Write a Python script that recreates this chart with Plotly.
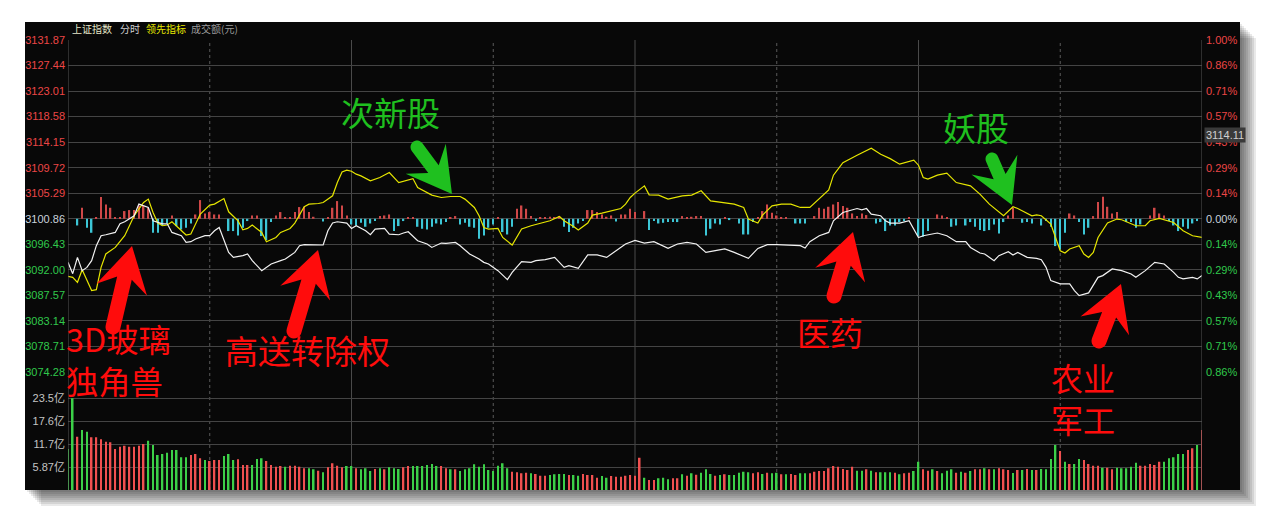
import math
import plotly.graph_objects as go

# ---------------- data ----------------
prev_close = 3100.86
price_ticks = [3131.87, 3127.44, 3123.01, 3118.58, 3114.15, 3109.72, 3105.29,
               3100.86, 3096.43, 3092.00, 3087.57, 3083.14, 3078.71, 3074.28]
pct_labels = ["1.00%", "0.86%", "0.71%", "0.57%", "0.43%", "0.29%", "0.14%",
              "0.00%", "0.14%", "0.29%", "0.43%", "0.57%", "0.71%", "0.86%"]
vol_ticks = [5.87, 11.74, 17.61, 23.48]
vol_labels = ["5.87亿", "11.7亿", "17.6亿", "23.5亿"]

# 上证指数 (white line): minute index, index level
sh_min = [0, 1, 2, 3, 4, 5, 6, 7, 8, 10, 11, 12, 14, 15, 17, 18, 20, 21, 22, 24, 25, 26, 27, 29, 30,
          31, 32, 33, 34, 35, 37, 38, 39, 41, 42, 43, 45, 46, 48, 49, 50, 52, 54, 55, 56, 57, 59, 60,
          61, 63, 64, 65, 67, 68, 70, 71, 72, 74, 76, 77, 79, 80, 82, 83, 85, 87, 88, 89, 91, 93, 94,
          96, 98, 99, 101, 103, 105, 106, 108, 110, 112, 114, 116, 118, 120, 122, 124, 127, 129, 131,
          133, 135, 137, 139, 141, 144, 146, 148, 150, 152, 155, 156, 157, 159, 161, 162, 164, 167,
          168, 169, 170, 172, 173, 174, 176, 178, 180, 181, 184, 186, 187, 188, 190, 191, 193, 194,
          196, 197, 199, 200, 201, 203, 205, 206, 207, 208, 210, 212, 213, 214, 216, 218, 219, 221,
          223, 225, 226, 228, 230, 232, 234, 235, 236, 238, 239, 240]
sh_val = [3093.30, 3091.34, 3094.16, 3091.86, 3092.43, 3093.59, 3096.19, 3097.92, 3098.09, 3098.49,
          3099.99, 3100.34, 3101.38, 3103.40, 3102.82, 3100.51, 3099.99, 3099.99, 3098.49, 3097.92,
          3096.76, 3096.88, 3097.35, 3097.92, 3097.92, 3098.78, 3099.35, 3097.35, 3095.03, 3094.16,
          3094.46, 3094.75, 3093.59, 3091.86, 3092.43, 3093.02, 3093.59, 3093.89, 3095.03, 3096.19,
          3096.36, 3096.31, 3096.31, 3098.78, 3100.12, 3100.34, 3100.12, 3099.18, 3099.65, 3098.78,
          3098.09, 3099.08, 3099.18, 3098.21, 3098.09, 3098.39, 3098.61, 3097.05, 3096.48, 3095.89,
          3096.65, 3096.58, 3096.76, 3096.19, 3094.75, 3093.89, 3093.30, 3093.02, 3091.86, 3090.30,
          3091.57, 3093.42, 3093.30, 3093.59, 3093.76, 3094.16, 3092.43, 3092.73, 3092.26, 3094.58,
          3094.58, 3094.16, 3095.32, 3096.48, 3097.10, 3096.65, 3096.88, 3095.72, 3096.48, 3096.76,
          3096.48, 3095.03, 3095.32, 3095.62, 3095.03, 3093.99, 3095.72, 3096.36, 3096.36, 3096.31,
          3096.19, 3095.79, 3096.88, 3097.92, 3098.49, 3100.51, 3101.95, 3102.64, 3102.42, 3102.64,
          3101.67, 3101.38, 3100.51, 3100.12, 3100.12, 3100.51, 3097.62, 3097.92, 3098.39, 3097.92,
          3097.35, 3096.88, 3096.88, 3095.89, 3094.92, 3094.75, 3093.59, 3094.46, 3095.15, 3094.58,
          3095.03, 3094.16, 3093.99, 3093.76, 3092.43, 3090.13, 3089.56, 3089.56, 3088.40, 3087.54,
          3088.00, 3090.70, 3091.00, 3092.16, 3091.86, 3091.29, 3090.70, 3091.86, 3093.30, 3093.02,
          3091.57, 3090.70, 3090.43, 3090.70, 3090.43, 3091.00]

# 领先指标 (yellow line)
lead_min = [0, 1, 2, 3, 5, 6, 7, 8, 10, 12, 13, 14, 16, 17, 18, 19, 20, 21, 22, 24, 25, 26, 27, 28,
            30, 31, 33, 34, 36, 37, 38, 39, 41, 42, 44, 45, 47, 48, 50, 51, 53, 54, 56, 57, 58, 59,
            60, 61, 62, 64, 66, 68, 70, 73, 74, 77, 79, 81, 83, 84, 86, 87, 88, 89, 91, 92, 94, 95,
            96, 98, 100, 102, 104, 105, 107, 108, 110, 111, 113, 115, 117, 118, 119, 120, 122, 123,
            125, 127, 130, 132, 134, 136, 139, 141, 143, 144, 146, 147, 149, 151, 153, 155, 157, 159,
            161, 162, 164, 167, 170, 172, 174, 176, 179, 180, 181, 182, 184, 186, 188, 191, 193, 195,
            198, 200, 201, 204, 205, 206, 208, 209, 210, 211, 212, 214, 215, 216, 217, 218, 220, 222,
            223, 226, 228, 229, 231, 234, 236, 238, 240]
lead_val = [3090.88, 3090.70, 3089.84, 3092.03, 3088.40, 3088.57, 3092.43, 3094.75, 3095.89, 3097.92,
            3099.65, 3101.38, 3103.68, 3104.27, 3101.95, 3100.12, 3099.65, 3099.77, 3100.34, 3098.78,
            3098.04, 3098.21, 3099.94, 3101.67, 3103.23, 3103.40, 3104.37, 3102.07, 3100.51, 3098.96,
            3099.18, 3099.77, 3098.49, 3096.88, 3097.62, 3098.49, 3099.18, 3100.12, 3102.94, 3103.40,
            3103.51, 3103.68, 3104.84, 3107.14, 3108.99, 3109.29, 3109.10, 3108.60, 3108.30, 3107.44,
            3108.01, 3108.87, 3107.14, 3107.83, 3106.28, 3104.96, 3104.55, 3104.72, 3104.72, 3104.27,
            3102.82, 3101.38, 3099.35, 3099.08, 3099.18, 3097.62, 3096.31, 3097.62, 3099.08, 3099.65,
            3100.12, 3100.51, 3101.26, 3100.51, 3099.53, 3098.90, 3100.12, 3101.50, 3101.85, 3102.24,
            3102.64, 3103.40, 3104.55, 3105.31, 3106.57, 3105.01, 3104.96, 3104.27, 3104.84, 3104.96,
            3105.71, 3103.97, 3103.58, 3103.40, 3102.82, 3100.81, 3100.12, 3101.50, 3103.11, 3103.40,
            3103.40, 3102.82, 3102.82, 3104.37, 3105.88, 3108.42, 3110.60, 3111.88, 3113.09, 3112.06,
            3111.29, 3110.33, 3111.02, 3110.15, 3108.01, 3107.73, 3108.42, 3108.77, 3107.14, 3106.57,
            3105.13, 3103.40, 3101.38, 3102.94, 3102.64, 3101.38, 3101.55, 3101.38, 3099.94, 3097.62,
            3095.32, 3094.92, 3095.62, 3096.19, 3094.75, 3094.16, 3095.03, 3097.62, 3100.12, 3100.81,
            3100.69, 3099.65, 3099.65, 3100.51, 3100.91, 3100.22, 3098.78, 3097.92, 3097.62]

# red / cyan strength bars around the zero line (arbitrary units)
hist_min = [2, 3, 4, 5, 6, 7, 8, 9, 10, 11, 12, 13, 14, 15, 16, 17, 18, 19, 20, 21, 22, 23, 24, 25,
            26, 27, 28, 29, 30, 31, 32, 34, 35, 36, 37, 38, 39, 40, 41, 42, 43, 44, 45, 46, 47, 48,
            49, 50, 51, 52, 54, 55, 56, 57, 58, 59, 60, 61, 62, 63, 64, 65, 66, 67, 68, 69, 70, 71,
            72, 73, 74, 75, 76, 77, 78, 79, 80, 81, 82, 83, 84, 85, 86, 87, 88, 89, 90, 91, 92, 93,
            94, 95, 96, 97, 98, 99, 100, 101, 102, 103, 104, 105, 106, 107, 108, 109, 110, 111, 112,
            113, 114, 115, 116, 117, 118, 119, 120, 122, 123, 124, 125, 126, 127, 128, 129, 130, 131,
            132, 133, 134, 135, 136, 137, 138, 139, 140, 142, 143, 144, 145, 146, 147, 148, 149, 150,
            151, 152, 154, 155, 156, 158, 159, 160, 161, 162, 163, 164, 165, 166, 167, 168, 169, 171,
            172, 173, 174, 175, 176, 177, 178, 180, 181, 182, 184, 185, 186, 187, 188, 190, 191, 192,
            193, 194, 195, 196, 197, 198, 199, 200, 202, 203, 204, 206, 207, 208, 209, 210, 211, 212,
            213, 214, 215, 216, 217, 218, 219, 220, 221, 222, 224, 225, 226, 227, 229, 230, 231, 232,
            233, 234, 235, 236, 237, 238, 239]
hist_val = [-6.7, 11, -9, -14, 1, 21.7, 14.3, 11, 1, 1, 7.7, 8.7, 8.7, 13.3, 13.3, 11, -14, -14, -6.7,
            -4.7, 3.3, -7.3, -10.7, -9, -4.7, 4.3, 18.7, 5.3, 6.7, 4.3, 4.3, -12.3, -12.3, -16.7, -9,
            -2.3, 3.3, 3.3, -17.3, -21.3, -3.3, 3.3, 6.7, 1, 1, 6.7, 11.7, 12, 6.7, 2, -2.7, 1, 11,
            17.7, 13.3, 3.3, -5.7, -6.7, -4, -8, -4.7, -2.3, 2.7, 3.3, 4.3, -12.3, -7.3, -2.3, 1, 1,
            -8, -10, -10.7, -8, -4.7, -5.7, -3.3, 1, 2.7, -5.7, -4, -8, -9, -20, -16.7, -9, -5.7, 1,
            -13.3, -15.7, -8, 10, 13.3, 10, 2.7, -2.3, 1.7, 1, 2, 1, 2.7, -8, -13.3, -9, -4.7, -2.3,
            8.7, 8.7, 6.7, 4.3, 2, 3.3, -2.7, 4.3, 4.3, 10, 6.7, 7.7, -11.3, -2.3, -4.7, -4, -3.3,
            -3.3, -3.3, 2.7, 1, 2, 2.7, 2.7, -16.7, -10, -4.7, -5.7, 1, -1.3, -4.7, -15.7, -15.7,
            -3.3, 1, 7.7, 14.3, 6, 3.3, 1, 1, -4.7, -4.7, -4.7, 2.7, 11, 10, 12, 14.3, 16.7, 12.7,
            11, 5.3, 2.7, 5.3, 3.7, -4.7, -3.3, -12.3, -6.7, -6.7, -3.3, -2.3, 1, -17.3, -18, -12.3,
            4.3, 3.3, 1, -8, -6.7, -6.7, -3.3, -8, -11.3, -12.3, -11.3, -5.7, -14.7, -3.3, 3.3, 11,
            -4, -3.3, -4.7, -6.7, -2.3, -8, -27.3, -30.7, -14, 5.3, 3.3, -3.3, -15.7, -9, 2.7, 16.7,
            22, 12, 5.3, 6.7, -3.3, -3.3, -9, -5.7, 3.3, 11, 5.3, 3.3, -2.3, -6.7, -12.3, -8, -10,
            -4.7, -2.3]

# 成交额 (亿元) per minute, and direction (R = up, G = down)
volume = [10.46, 23.40, 13.60, 15.31, 14.88, 13.45, 13.45, 12.94, 12.33, 12.17,
          10.46, 11.05, 11.31, 11.05, 11.05, 11.31, 11.74, 12.58, 11.48, 8.93,
          9.19, 9.52, 10.21, 10.21, 8.34, 8.34, 8.93, 9.19, 8.09, 7.66,
          7.40, 7.66, 7.66, 8.68, 9.19, 7.66, 7.83, 6.38, 6.38, 6.38,
          7.91, 8.09, 7.40, 6.38, 5.95, 6.12, 5.95, 6.20, 6.20, 5.95,
          5.54, 5.54, 5.28, 4.93, 4.52, 5.79, 6.81, 6.20, 5.79, 6.12,
          6.12, 5.54, 5.28, 5.54, 4.85, 5.36, 5.54, 5.28, 5.79, 5.54,
          5.36, 5.79, 6.12, 6.12, 6.12, 6.12, 6.38, 6.64, 6.12, 6.12,
          5.54, 5.28, 5.28, 4.85, 5.28, 5.54, 6.56, 5.95, 6.56, 5.10,
          4.85, 6.20, 6.81, 5.54, 4.67, 4.52, 4.26, 4.41, 4.26, 4.08,
          3.65, 3.65, 3.83, 4.01, 4.08, 4.08, 3.83, 3.83, 3.65, 4.08,
          3.83, 3.83, 3.14, 3.57, 3.14, 3.57, 3.39, 3.39, 3.65, 3.83,
          3.65, 8.24, 3.14, 2.55, 2.55, 2.99, 3.14, 2.73, 2.99, 2.99,
          4.01, 3.65, 4.26, 3.90, 4.41, 5.28, 4.08, 3.65, 3.83, 4.01,
          3.83, 3.83, 4.41, 4.67, 4.52, 4.26, 4.52, 4.08, 4.41, 4.26,
          4.41, 4.01, 4.01, 4.08, 3.83, 4.26, 4.26, 4.26, 4.67, 4.85,
          4.85, 5.54, 6.12, 5.95, 5.36, 5.10, 5.95, 4.93, 4.93, 5.28,
          4.93, 4.52, 4.52, 4.52, 4.52, 4.41, 4.01, 4.26, 4.41, 4.85,
          7.22, 5.28, 4.93, 5.28, 4.85, 4.26, 4.93, 5.28, 4.41, 4.67,
          4.41, 4.85, 5.28, 5.28, 5.54, 5.28, 5.28, 5.54, 5.28, 5.10,
          4.34, 5.10, 5.10, 5.36, 5.10, 5.10, 5.36, 5.28, 7.91, 11.48,
          9.95, 7.22, 6.64, 6.64, 7.91, 7.66, 6.64, 6.20, 6.20, 5.69,
          5.69, 5.28, 5.69, 5.54, 5.54, 5.95, 6.97, 6.20, 6.20, 6.64,
          6.38, 7.22, 7.22, 8.09, 8.34, 9.19, 9.19, 10.21, 10.64, 11.48,
          15.31]
vol_dir = ("GGRGGRRRRR" "RRRRRRRGGG" "GGGGGGRRRG" "RRRGGGRRRG" "GGRRRRGRRR"
           "RGGRGRRRRG" "GRGGGRGRGG" "GRRGGGGGGR" "RGRGGGGGGG" "GGGGRRRRGR"
           "RRGGGGRGGR" "RRRGGRRRRR" "RRGRRGGGRR" "GRGRGGGRGR" "GGGGGRRGRG"
           "GRGRRGGRRR" "RRRRRRRGGR" "GRGGGRGRRG" "GRRGRGGGRG" "RGRRGRGRRR"
           "GRGRGRGGGG" "RGRGGRRRRG" "RRGGGGGRRR" "RRGGGGGRRG" "R")

header_items = ["上证指数", "分时", "领先指标", "成交额(元)"]
cursor_label = "3114.11"

# ---------------- layout helpers (page pixel -> paper) ----------------
W, H = 1264, 514
BODY = 8                     # default page margin around the plot div
PL, PR, PT, PB = 68, 1202, 40, 490


def px(x):
    return (x - PL) / (PR - PL)


def py(y):
    return (PB - y) / (PB - PT)


PRICE_TOP_PX, PRICE_BOT_PX = 40, 372
VOL_TOP_PX = 395.5
price_per_px = (price_ticks[0] - price_ticks[-1]) / (PRICE_BOT_PX - PRICE_TOP_PX)
vol_per_px = (vol_ticks[1] - vol_ticks[0]) / 23.0

RED_T = "#ec4646"
GRN_T = "#30c84c"
BASE_T = "#c8d2dc"


def tick_color(v):
    if abs(v - prev_close) < 0.01:
        return BASE_T
    return RED_T if v > prev_close else GRN_T


left_text = [f'<span style="color:{tick_color(v)}">{v:.2f}</span>' for v in price_ticks]
right_text = [f'<span style="color:{tick_color(v)}">{t}</span>' for v, t in zip(price_ticks, pct_labels)]

fig = go.Figure()

# strength bars (drawn from the zero line)
hist_unit = price_per_px
fig.add_trace(go.Bar(
    x=hist_min, y=[v * hist_unit for v in hist_val], base=prev_close,
    marker=dict(color=["#d04848" if v > 0 else "#3cc6d6" for v in hist_val], line=dict(width=0)),
    width=0.32, xaxis="x", yaxis="y", hoverinfo="skip", showlegend=False))

# leading indicator (yellow)
fig.add_trace(go.Scatter(x=lead_min, y=lead_val, mode="lines",
                         line=dict(color="#e6e600", width=1.2),
                         xaxis="x", yaxis="y", hoverinfo="skip", showlegend=False))
# index (white)
fig.add_trace(go.Scatter(x=sh_min, y=sh_val, mode="lines",
                         line=dict(color="#f2f2f2", width=1.2),
                         xaxis="x", yaxis="y2", hoverinfo="skip", showlegend=False))
# volume
fig.add_trace(go.Bar(
    x=list(range(len(volume))), y=volume,
    marker=dict(color=["#f05050" if d == "R" else "#3cd048" for d in vol_dir], line=dict(width=0)),
    width=0.34, xaxis="x", yaxis="y4", hoverinfo="skip", showlegend=False))

price_range = [price_ticks[-1], price_ticks[0]]
price_dom = [py(PRICE_BOT_PX), 1.0]
vol_top = (PB - VOL_TOP_PX) * vol_per_px

tickfont = dict(family="Arial, Liberation Sans, sans-serif", size=11)
GRID = "#444444"

shapes = []
# drop shadow + black panel
for k in range(1, 9):
    shapes.append(dict(type="rect", xref="paper", yref="paper", layer="below",
                       x0=px(25 + 2 * k), x1=px(1240 + 2 * k), y0=py(490 + 2 * k), y1=py(22 + 2 * k),
                       fillcolor="rgba(0,0,0,0.085)", line=dict(width=0)))
shapes.append(dict(type="rect", xref="paper", yref="paper", layer="below",
                   x0=px(25), x1=px(1240), y0=py(490), y1=py(22),
                   fillcolor="#080808", line=dict(width=0)))
# half-hour separators
for m in [30, 60, 90, 120, 150, 180, 210]:
    solid = m % 60 == 0
    shapes.append(dict(type="line", xref="x", yref="paper", layer="below",
                       x0=m, x1=m, y0=0, y1=1,
                       line=dict(color="#4a4a4a" if solid else "#5a5a5a", width=1,
                                 dash="solid" if solid else "dot")))
for m in [0, 240]:
    shapes.append(dict(type="line", xref="x", yref="paper", layer="above",
                       x0=m, x1=m, y0=0, y1=1, line=dict(color="#555555", width=1)))


def arrow_path(tail, tip, shaft_w, head_len, head_hw, notch):
    tx, ty = tail
    hx, hy = tip
    dx, dy = hx - tx, hy - ty
    L = math.hypot(dx, dy)
    ux, uy = dx / L, dy / L
    nx, ny = -uy, ux
    hw = shaft_w / 2
    pts = [(hx, hy),
           (hx - ux * head_len + nx * head_hw, hy - uy * head_len + ny * head_hw),
           (hx - ux * notch + nx * hw, hy - uy * notch + ny * hw),
           (tx + nx * hw, ty + ny * hw)]
    for k in range(1, 12):
        a = math.pi * k / 12
        pts.append((tx + nx * hw * math.cos(a) - ux * hw * math.sin(a),
                    ty + ny * hw * math.cos(a) - uy * hw * math.sin(a)))
    pts += [(tx - nx * hw, ty - ny * hw),
            (hx - ux * notch - nx * hw, hy - uy * notch - ny * hw),
            (hx - ux * head_len - nx * head_hw, hy - uy * head_len - ny * head_hw)]
    return "M " + " L ".join(f"{px(x):.5f},{py(y):.5f}" for x, y in pts) + " Z"


RED_A = "#ff0c0c"
GRN_A = "#1fc01f"
red_arrows = [((113, 327), (132, 246)), ((294, 331), (318, 250)),
              ((834, 296), (853, 232)), ((1099, 341), (1121, 284))]
green_arrows = [((417, 147), (452, 194)), ((992, 159), (1012, 205))]
for tail, tip in red_arrows:
    shapes.append(dict(type="path", xref="paper", yref="paper", layer="above",
                       path=arrow_path(tail, tip, 15, 45, 26, 33),
                       fillcolor=RED_A, line=dict(width=0)))
for tail, tip in green_arrows:
    shapes.append(dict(type="path", xref="paper", yref="paper", layer="above",
                       path=arrow_path(tail, tip, 13, 44, 25, 31),
                       fillcolor=GRN_A, line=dict(width=0)))

CJK = "Noto Sans CJK SC, Microsoft YaHei, sans-serif"
annotations = []
big_labels = [("次新股", 390, 112, "center", GRN_A, 33),
              ("妖股", 976, 127, "center", GRN_A, 33),
              ("3D玻璃<br>独角兽", 64, 359, "left", RED_A, 32.3),
              ("高送转除权", 307, 350, "center", RED_A, 33),
              ("医药", 830, 332, "center", RED_A, 33),
              ("农业<br>军工", 1083, 397.5, "center", RED_A, 32)]
for text, x, y, anc, col, size in big_labels:
    annotations.append(dict(text=text, xref="paper", yref="paper", x=px(x), y=py(y),
                            xanchor=anc, yanchor="middle", align=anc, showarrow=False,
                            font=dict(family=CJK, size=size, color=col)))

header_x = [70, 118, 144, 189]
header_col = ["#e6e6c8", "#d0d0d0", "#e8e800", "#9a9a9a"]
for t, x, c in zip(header_items, header_x, header_col):
    annotations.append(dict(text=t, xref="paper", yref="paper", x=px(x), y=py(29),
                            xanchor="left", yanchor="middle", showarrow=False,
                            font=dict(family=CJK, size=10, color=c)))
annotations.append(dict(text=cursor_label, xref="paper", yref="paper", x=px(1204), y=py(135.5),
                        xanchor="left", yanchor="middle", showarrow=False, bgcolor="#3a3a3a",
                        borderpad=1, font=dict(family="Arial, Liberation Sans", size=11, color="#d0d0d0")))

fig.update_layout(
    width=W - BODY, height=H - BODY, autosize=False,
    margin=dict(l=PL - BODY, r=W - PR, t=PT - BODY, b=H - PB, pad=0),
    paper_bgcolor="#ffffff", plot_bgcolor="#080808",
    barmode="overlay", showlegend=False,
    xaxis=dict(range=[0, 240], visible=False, domain=[0, 1]),
    yaxis=dict(domain=price_dom, range=price_range, tickmode="array",
               tickvals=price_ticks, ticktext=left_text, tickfont=tickfont,
               showgrid=True, gridcolor=GRID, gridwidth=1, zeroline=False,
               showline=False, ticks="", ticklabelstandoff=2, fixedrange=True),
    yaxis2=dict(overlaying="y", side="right", anchor="x", range=price_range, tickmode="array",
                tickvals=price_ticks, ticktext=right_text, tickfont=tickfont,
                showgrid=False, zeroline=False, showline=False, ticks="",
                ticklabelstandoff=3),
    yaxis4=dict(domain=[0, py(VOL_TOP_PX)], anchor="x", range=[0, vol_top], tickmode="array",
                tickvals=vol_ticks, ticktext=vol_labels,
                tickfont=dict(family="Arial, Liberation Sans, Noto Sans CJK SC", size=11, color="#c4c4c4"),
                showgrid=True, gridcolor=GRID, gridwidth=1, zeroline=False, showline=False,
                ticks="", ticklabelstandoff=2),
    shapes=shapes,
    annotations=annotations,
)

fig.write_html("out.html")
